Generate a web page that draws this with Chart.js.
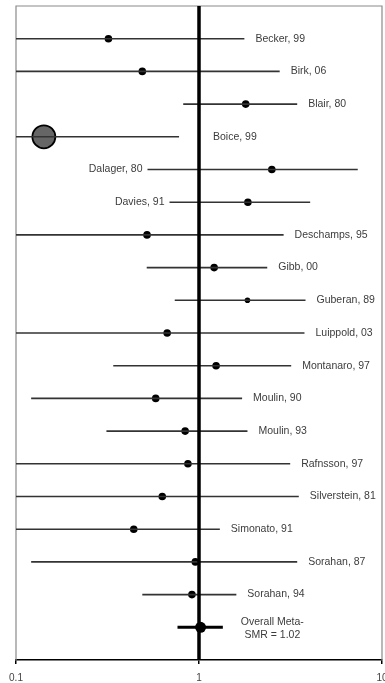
<!DOCTYPE html>
<html>
<head>
<meta charset="utf-8">
<script src="https://cdn.jsdelivr.net/npm/chart.js@4.4.1/dist/chart.umd.min.js"></script>
<style>
  html, body { margin: 0; padding: 0; background: #fff; }
  canvas { display: block; }
</style>
</head>
<body>
<canvas id="forest" width="385" height="683"></canvas>
<script>
const studies = [
  "Becker, 99", "Birk, 06", "Blair, 80", "Boice, 99", "Dalager, 80", "Davies, 91",
  "Deschamps, 95", "Gibb, 00", "Guberan, 89", "Luippold, 03", "Montanaro, 97",
  "Moulin, 90", "Moulin, 93", "Rafnsson, 97", "Silverstein, 81", "Simonato, 91",
  "Sorahan, 87", "Sorahan, 94"
];
const smr   = [0.32, 0.49, 1.80, 0.142, 2.50, 1.85, 0.52, 1.21, 1.84, 0.67, 1.24, 0.58, 0.84, 0.87, 0.63, 0.44, 0.955, 0.915];
const lower = [0.08, 0.08, 0.82, 0.08, 0.523, 0.69, 0.08, 0.518, 0.737, 0.08, 0.34, 0.121, 0.312, 0.08, 0.08, 0.08, 0.121, 0.49];
const upper = [1.77, 2.76, 3.44, 0.778, 7.37, 4.05, 2.90, 2.36, 3.82, 3.77, 3.19, 1.72, 1.84, 3.15, 3.51, 1.30, 3.44, 1.60];

const overallLabel = ["Overall Meta-", "SMR = 1.02"];
const overallSmr = 1.02;
const overallLower = 0.763;
const overallUpper = 1.35;

const xTicks = [0.1, 1, 10];
const leftLabelled = ["Dalager, 80", "Davies, 91"];

const FONT = "'Liberation Sans', Arial, sans-serif";

// one row per study, overall on the last row
const rowOf = i => i + 1;
const overallRow = studies.length + 1;

const ciSets = studies.map((s, i) => ({
  type: "line",
  data: [{ x: lower[i], y: rowOf(i) }, { x: upper[i], y: rowOf(i) }],
  borderColor: "#333",
  borderWidth: 1.6,
  pointRadius: 0,
  showLine: true
}));

const radii = studies.map(s => s === "Boice, 99" ? 11.5 : (s === "Guberan, 89" ? 2.8 : 3.8));

const noPad = scale => {
  scale.paddingLeft = 0;
  scale.paddingRight = 0;
  scale.paddingTop = 0;
  scale.paddingBottom = 0;
};

const boxPlugin = {
  id: "box",
  beforeDatasetsDraw(chart) {
    const { ctx, chartArea: a } = chart;
    ctx.save();
    ctx.strokeStyle = "#8a8a8a";
    ctx.lineWidth = 1.2;
    ctx.beginPath();
    ctx.moveTo(a.left, a.bottom);
    ctx.lineTo(a.left, a.top);
    ctx.lineTo(a.right, a.top);
    ctx.lineTo(a.right, a.bottom);
    ctx.stroke();
    ctx.restore();
  }
};

const labelPlugin = {
  id: "labels",
  afterDatasetsDraw(chart) {
    const { ctx } = chart;
    const x = chart.scales.x;
    const y = chart.scales.y;
    const one = x.getPixelForValue(1);
    ctx.save();
    ctx.font = "10.5px " + FONT;
    ctx.fillStyle = "#3c3c3c";
    ctx.textBaseline = "middle";
    studies.forEach((s, i) => {
      const py = y.getPixelForValue(rowOf(i));
      if (leftLabelled.includes(s)) {
        ctx.textAlign = "right";
        ctx.fillText(s, x.getPixelForValue(lower[i]) - 5, py);
      } else {
        ctx.textAlign = "left";
        const start = Math.max(x.getPixelForValue(upper[i]), one + 3) + 11;
        ctx.fillText(s, start, py);
      }
    });
    const oy = y.getPixelForValue(overallRow);
    const w = ctx.measureText(overallLabel[0]).width;
    const cx = x.getPixelForValue(overallUpper) + 18 + w / 2;
    ctx.textAlign = "center";
    ctx.fillText(overallLabel[0], cx, oy - 5);
    ctx.fillText(overallLabel[1], cx, oy + 8);
    ctx.restore();
  }
};

new Chart(document.getElementById("forest"), {
  type: "scatter",
  data: {
    datasets: [
      {
        type: "line",
        data: [{ x: 1, y: 0 }, { x: 1, y: 20 }],
        borderColor: "#000",
        borderWidth: 3.5,
        pointRadius: 0,
        showLine: true
      },
      ...ciSets,
      {
        type: "line",
        data: [{ x: overallLower, y: overallRow }, { x: overallUpper, y: overallRow }],
        borderColor: "#000",
        borderWidth: 3,
        pointRadius: 0,
        showLine: true
      },
      {
        data: studies.map((s, i) => ({ x: smr[i], y: rowOf(i) })),
        pointRadius: radii,
        pointBackgroundColor: studies.map(s => s === "Boice, 99" ? "#666" : "#000"),
        pointBorderColor: "#000",
        pointBorderWidth: studies.map(s => s === "Boice, 99" ? 1.8 : 0)
      },
      {
        data: [{ x: overallSmr, y: overallRow }],
        pointRadius: 5.5,
        pointBackgroundColor: "#000",
        pointBorderWidth: 0
      }
    ]
  },
  options: {
    responsive: false,
    animation: false,
    events: [],
    layout: { autoPadding: false, padding: { left: 16, top: 6, right: 3, bottom: 0 } },
    plugins: { legend: { display: false }, tooltip: { enabled: false } },
    scales: {
      x: {
        type: "logarithmic",
        min: 0.1,
        max: 10,
        afterBuildTicks: scale => {
          scale.ticks = xTicks.map(v => ({ value: v, major: true }));
        },
        afterFit: scale => {
          scale.height = 23;
          noPad(scale);
        },
        ticks: {
          autoSkip: false,
          maxRotation: 0,
          padding: 8,
          color: "#444",
          font: { family: FONT, size: 10 },
          callback: v => String(v)
        },
        grid: {
          drawOnChartArea: false,
          drawTicks: true,
          tickLength: 4,
          color: "#000",
          lineWidth: 1.5
        },
        border: { display: true, color: "#000", width: 1.5 }
      },
      y: {
        type: "linear",
        min: 0,
        max: 20,
        reverse: true,
        display: false,
        afterFit: noPad
      }
    }
  },
  plugins: [boxPlugin, labelPlugin]
});
</script>
</body>
</html>
